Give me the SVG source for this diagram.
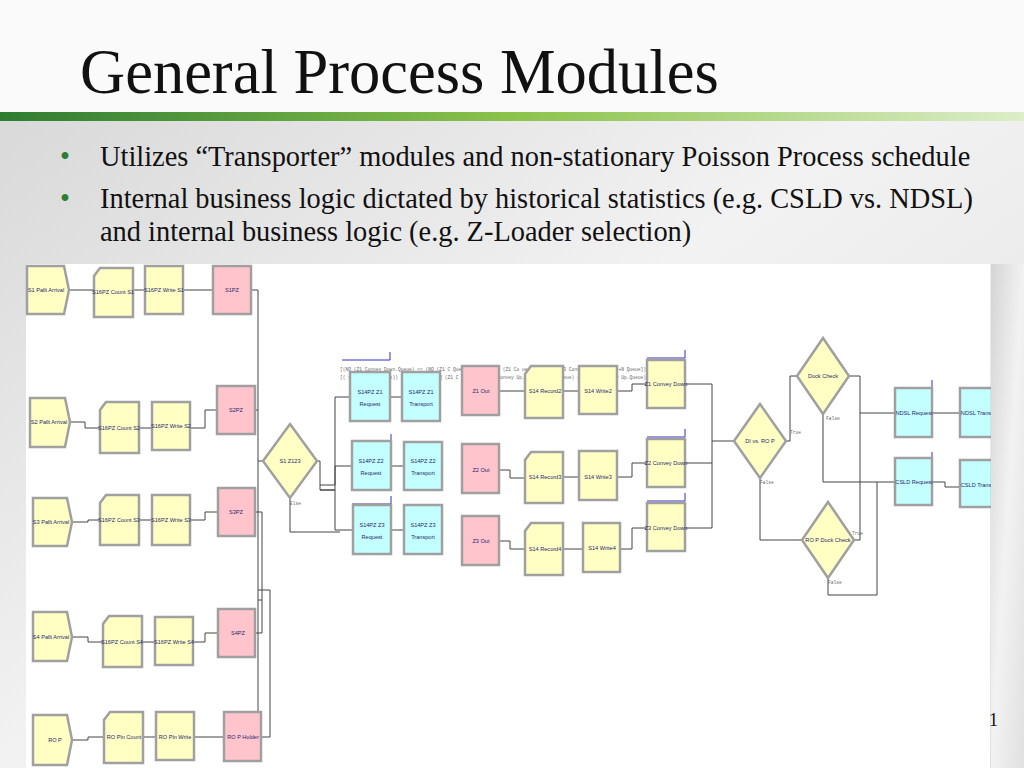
<svg xmlns="http://www.w3.org/2000/svg" width="1024" height="768" viewBox="0 0 1024 768">
<defs>
<linearGradient id="bg" x1="0" y1="0" x2="1" y2="1"><stop offset="0" stop-color="#d4d4d4"/><stop offset="0.5" stop-color="#f2f2f2"/><stop offset="1" stop-color="#e0e0e0"/></linearGradient>
<linearGradient id="bar" x1="0" y1="0" x2="1" y2="0"><stop offset="0" stop-color="#2e7d32"/><stop offset="0.5" stop-color="#8bc34a"/><stop offset="1" stop-color="#dcedc8"/></linearGradient>
<style>
.y{fill:#ffffc4;stroke:#a0a0a0;stroke-width:2.5}
.p{fill:#ffc4cc;stroke:#a0a0a0;stroke-width:2.5}
.c{fill:#c4ffff;stroke:#a0a0a0;stroke-width:2.5}
.t{font-family:"Liberation Sans",sans-serif;font-size:5.6px;fill:#28286e;text-anchor:middle}
.s{font-family:"Liberation Mono",monospace;font-size:4.6px;fill:#666}
.l{fill:none;stroke:#444;stroke-width:1}
.b{fill:none;stroke:#3030c0;stroke-width:1}
</style>
</defs>
<rect width="1024" height="768" fill="url(#bg)"/>
<rect width="1024" height="112" fill="#fafafa"/>
<rect y="112" width="1024" height="9" fill="url(#bar)"/>
<text x="80" y="93" font-family="Liberation Serif,serif" font-size="62.5" fill="#111">General Process Modules</text>
<g font-family="Liberation Serif,serif" font-size="28.4" fill="#111">
<text x="60" y="166" fill="#2e7d32">•</text><text x="100" y="166">Utilizes “Transporter” modules and non-stationary Poisson Process schedule</text>
<text x="60" y="208" fill="#2e7d32">•</text><text x="100" y="208">Internal business logic dictated by historical statistics (e.g. CSLD vs. NDSL)</text>
<text x="100" y="241">and internal business logic (e.g. Z-Loader selection)</text>
</g>
<rect x="26" y="264" width="964" height="504" fill="#fff"/>

<g id="connectors">
<path class="l" d="M69 290H94M133 290H145M183 290H213M251 290H258V740M70 422H85V428H100M139 428H152M190 428H205V410H217M255 410H258M72 522H88V520H100M139 520H152M190 520H205V512H218M255 512H262M72 637H88V642H103M142 642H155M193 642H205V633H218M255 633H262V600M72 740H88V737H104M143 737H156M194 737H224M261 737H270V590H258M262 512V600H258M258 461H263"/>
<path class="l" d="M317 461H320V490H335V397H350M320 485H335V466H352M320 490H335V530H353M390 397H402M391 466H404M391 530H404"/>
<path class="l" d="M499 391H525M499 470H510V478H525M499 541H510V549H525M563 391H579M563 477H579M563 549H583M617 391H632V384H647M617 477H632V463H647M620 549H632V528H647"/>
<path class="l" d="M685 384H712V528H685M685 463H712M712 441H734M786 441H790V376H797M760 478V540H802M849 376H860V413H895M823 414V482H895M854 540H860V413M828 578V595H877V482M932 413H960M932 482H945V487H960"/>
<path class="l" d="M290 498V532H340"/>
<path class="b" d="M342 360H390V352M352 442H391V434M352 504H391V496M647 358H685V350M647 437H685V429M647 501H685V493M895 460H932V452M932 392V380"/>
</g>
<g class="s">
<text x="340" y="371">[(NQ (Z1 Convey Down.Queue) &lt;&lt; (NQ (Z1 C        Queue)+N        Up.Q        (NQ (Z1 Co        ueue] &lt;&lt; (NQ (Z3 Convey Down.Queue)+N              Queue]))</text>
<text x="340" y="379">[(          y Down         (Z2 Co        ue)) &lt;&lt; N        Down.        ((NQ (Z1 C        ueue)+NQ (Z2 Convey Up.Queue)) &lt;&lt;      .Queue) + NQ (Z3 Convey Up.Queue))))</text>
<text x="290" y="505">Else</text>
<text x="790" y="434">True</text><text x="760" y="484">False</text><text x="826" y="420">False</text>
<text x="852" y="535">True</text><text x="828" y="584">False</text>
</g>

<g id="S1PalltArrival"><path class="y" d="M27 266H64L69 290L64 314H27Z"/><text class="t" x="46" y="292">S1 Pallt Arrival</text></g>
<g id="S16PZCountS1"><path class="y" d="M100 268H133V317H94V276Z"/><text class="t" x="113" y="294">S16PZ Count S1</text></g>
<g id="S16PZWriteS1"><rect class="y" x="145" y="266" width="38" height="48"/><text class="t" x="164" y="292">S16PZ Write S1</text></g>
<g id="S1PZ"><rect class="p" x="213" y="266" width="38" height="48"/><text class="t" x="232" y="292">S1PZ</text></g>

<g id="S2PalltArrival"><path class="y" d="M30 398H65L70 422L65 447H30Z"/><text class="t" x="49" y="424">S2 Pallt Arrival</text></g>
<g id="S16PZCountS2"><path class="y" d="M106 402H139V453H100V410Z"/><text class="t" x="119" y="430">S16PZ Count S2</text></g>
<g id="S16PZWriteS2"><rect class="y" x="152" y="402" width="38" height="48"/><text class="t" x="171" y="428">S16PZ Write S2</text></g>
<g id="S2PZ"><rect class="p" x="217" y="386" width="38" height="48"/><text class="t" x="236" y="412">S2PZ</text></g>

<g id="S3PalltArrival"><path class="y" d="M33 498H67L72 522L67 546H33Z"/><text class="t" x="51" y="524">S3 Pallt Arrival</text></g>
<g id="S16PZCountS3"><path class="y" d="M106 495H139V545H100V503Z"/><text class="t" x="119" y="522">S16PZ Count S3</text></g>
<g id="S16PZWriteS3"><rect class="y" x="152" y="495" width="38" height="50"/><text class="t" x="171" y="522">S16PZ Write S3</text></g>
<g id="S3PZ"><rect class="p" x="218" y="488" width="37" height="48"/><text class="t" x="236" y="514">S3PZ</text></g>

<g id="S4PalltArrival"><path class="y" d="M33 612H67L72 637L67 661H33Z"/><text class="t" x="51" y="639">S4 Pallt Arrival</text></g>
<g id="S16PZCountS4"><path class="y" d="M109 616H142V667H103V624Z"/><text class="t" x="122" y="644">S16PZ Count S4</text></g>
<g id="S16PZWriteS4"><rect class="y" x="155" y="617" width="38" height="48"/><text class="t" x="174" y="644">S16PZ Write S4</text></g>
<g id="S4PZ"><rect class="p" x="218" y="609" width="37" height="48"/><text class="t" x="238" y="635">S4PZ</text></g>

<g id="ROP"><path class="y" d="M33 715H67L72 740L67 765H33Z"/><text class="t" x="55" y="742">RO P</text></g>
<g id="ROPlnCount"><path class="y" d="M110 712H143V763H104V720Z"/><text class="t" x="124" y="739">RO Pln Count</text></g>
<g id="ROPlnWrite"><rect class="y" x="156" y="712" width="38" height="48"/><text class="t" x="175" y="739">RO Pln Write</text></g>
<g id="ROPHolder"><rect class="p" x="224" y="712" width="37" height="49"/><text class="t" x="243" y="739">RO P Holder</text></g>

<g id="S1Z123"><path class="y" d="M290 424L317 461L290 498L263 461Z"/><text class="t" x="290" y="463">S1 Z123</text></g>

<g id="S14PZZ1Request"><rect class="c" x="350" y="372" width="40" height="49"/><text class="t" x="370" y="394">S14PZ Z1</text><text class="t" x="370" y="406">Request</text></g>
<g id="S14PZZ1Transport"><rect class="c" x="402" y="372" width="38" height="49"/><text class="t" x="421" y="394">S14PZ Z1</text><text class="t" x="421" y="406">Transport</text></g>
<g id="S14PZZ2Request"><rect class="c" x="352" y="441" width="39" height="49"/><text class="t" x="371" y="463">S14PZ Z2</text><text class="t" x="371" y="475">Request</text></g>
<g id="S14PZZ2Transport"><rect class="c" x="404" y="442" width="38" height="48"/><text class="t" x="423" y="463">S14PZ Z2</text><text class="t" x="423" y="475">Transport</text></g>
<g id="S14PZZ3Request"><rect class="c" x="353" y="505" width="38" height="49"/><text class="t" x="372" y="527">S14PZ Z3</text><text class="t" x="372" y="539">Request</text></g>
<g id="S14PZZ3Transport"><rect class="c" x="404" y="505" width="38" height="49"/><text class="t" x="423" y="527">S14PZ Z3</text><text class="t" x="423" y="539">Transport</text></g>

<g id="Z1Out"><rect class="p" x="462" y="366" width="37" height="49"/><text class="t" x="481" y="393">Z1 Out</text></g>
<g id="Z2Out"><rect class="p" x="462" y="444" width="37" height="49"/><text class="t" x="481" y="472">Z2 Out</text></g>
<g id="Z3Out"><rect class="p" x="462" y="516" width="37" height="49"/><text class="t" x="481" y="543">Z3 Out</text></g>

<g id="S14Record2"><path class="y" d="M531 366H563V418H525V374Z"/><text class="t" x="545" y="393">S14 Record2</text></g>
<g id="S14Write2"><rect class="y" x="579" y="366" width="38" height="48"/><text class="t" x="598" y="393">S14 Write2</text></g>
<g id="S14Record3"><path class="y" d="M531 452H563V503H525V460Z"/><text class="t" x="545" y="479">S14 Record3</text></g>
<g id="S14Write3"><rect class="y" x="579" y="451" width="38" height="49"/><text class="t" x="598" y="479">S14 Write3</text></g>
<g id="S14Record4"><path class="y" d="M531 523H563V575H525V531Z"/><text class="t" x="545" y="551">S14 Record4</text></g>
<g id="S14Write4"><rect class="y" x="583" y="523" width="37" height="49"/><text class="t" x="602" y="550">S14 Write4</text></g>

<g id="Z1ConveyDown"><rect class="y" x="647" y="360" width="38" height="48"/><text class="t" x="666" y="386">Z1 Convey Down</text></g>
<g id="Z2ConveyDown"><rect class="y" x="647" y="439" width="38" height="48"/><text class="t" x="666" y="465">Z2 Convey Down</text></g>
<g id="Z3ConveyDown"><rect class="y" x="647" y="503" width="38" height="48"/><text class="t" x="666" y="530">Z3 Convey Down</text></g>

<g id="DIvsROP"><path class="y" d="M760 404L786 441L760 478L734 441Z"/><text class="t" x="760" y="443">DI vs. RO P</text></g>
<g id="DockCheck"><path class="y" d="M823 338L849 376L823 414L797 376Z"/><text class="t" x="823" y="378">Dock Check</text></g>
<g id="ROPDockCheck"><path class="y" d="M828 502L854 540L828 578L802 540Z"/><text class="t" x="828" y="542">RO P Dock Check</text></g>

<g id="NDSLRequest"><rect class="c" x="895" y="388" width="37" height="49"/><text class="t" x="914" y="415">NDSL Request</text></g>
<g id="NDSLTrans"><rect class="c" x="960" y="388" width="32" height="49"/><text class="t" x="976" y="415">NDSL Trans</text></g>
<g id="CSLDRequest"><rect class="c" x="895" y="458" width="37" height="47"/><text class="t" x="914" y="484">CSLD Request</text></g>
<g id="CSLDTrans"><rect class="c" x="960" y="460" width="32" height="47"/><text class="t" x="976" y="487">CSLD Trans</text></g>
<rect x="991" y="264" width="33" height="504" fill="url(#bg)"/>
<text x="989" y="726" font-family="Liberation Serif,serif" font-size="18" fill="#111">1</text>
</svg>
